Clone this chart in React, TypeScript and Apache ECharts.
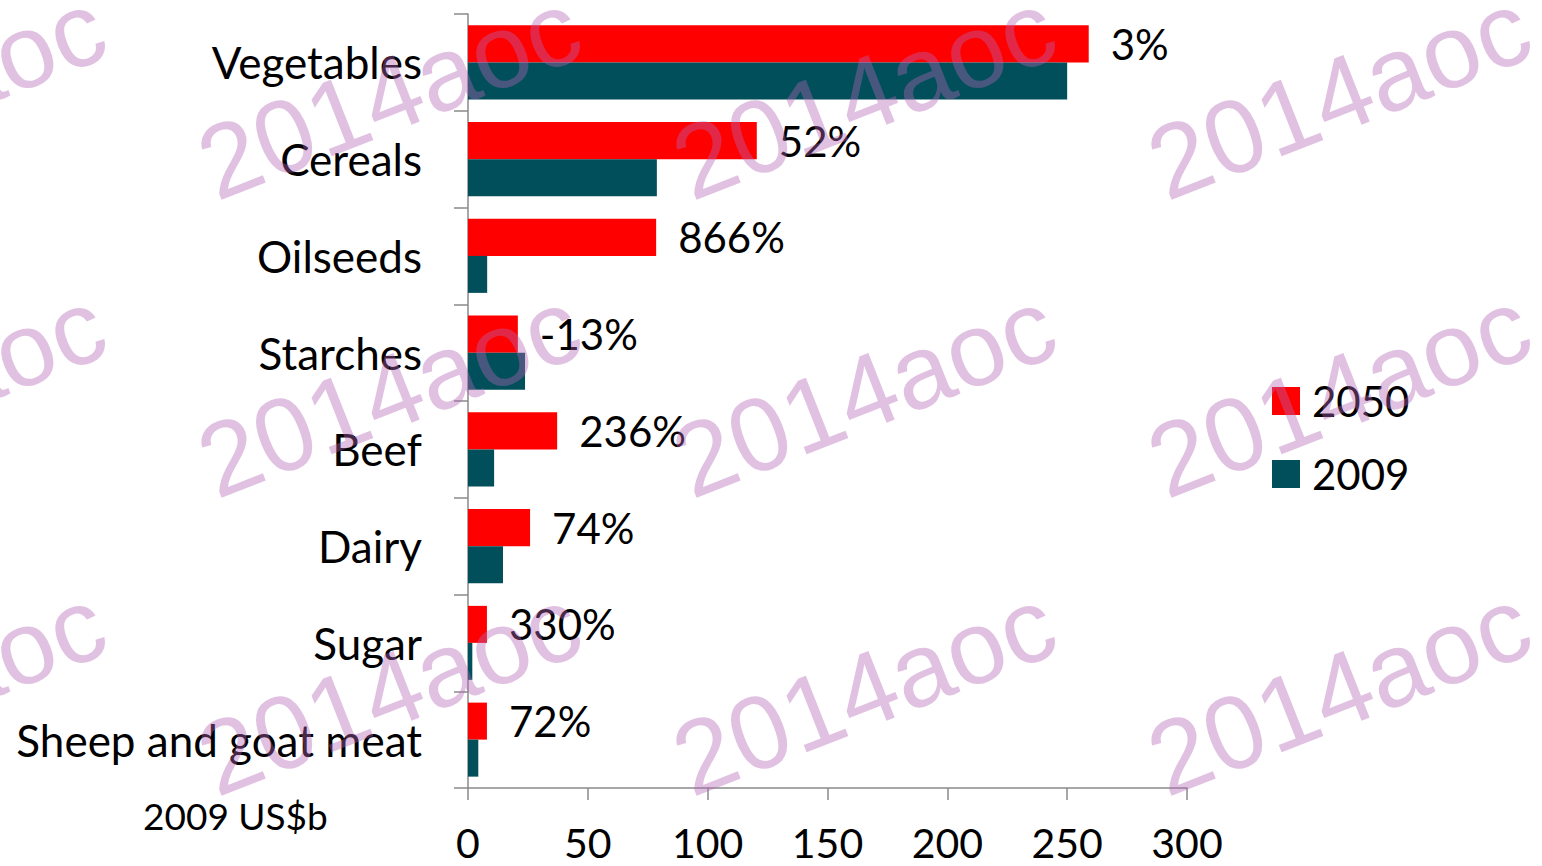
import React, { useEffect, useRef } from "react";
import * as echarts from "echarts";

const categories = [
  "Vegetables",
  "Cereals",
  "Oilseeds",
  "Starches",
  "Beef",
  "Dairy",
  "Sugar",
  "Sheep and goat meat",
];
const values2050 = [259, 120.5, 78.5, 20.8, 37.2, 25.9, 7.9, 7.9];
const values2009 = [250, 78.8, 8.0, 23.8, 10.9, 14.6, 1.8, 4.3];
const changeLabels = ["3%", "52%", "866%", "-13%", "236%", "74%", "330%", "72%"];
const seriesNames = ["2050", "2009"];
const unitLabel = "2009 US$b";
const watermarkText = "2014aoc";
const watermarkCols = [-86, 389, 864, 1339];
const watermarkRows = [95, 393, 691];

const FONT = "Lato, 'Noto Sans', sans-serif";
const AXIS_COLOR = "#8a8a8a";

export default function App() {
  const ref = useRef<HTMLDivElement>(null);

  useEffect(() => {
    if (!ref.current) return;
    const chart = echarts.init(ref.current, null, { renderer: "svg" });

    const watermarks: any[] = [];
    watermarkRows.forEach((y) => {
      watermarkCols.forEach((x) => {
        watermarks.push({
          type: "text",
          x,
          y,
          rotation: (21.5 * Math.PI) / 180,
          z: 100,
          silent: true,
          style: {
            text: watermarkText,
            fontSize: 104,
            fontFamily: "'Liberation Sans', Arial, sans-serif",
            fill: "rgba(180,100,180,0.4)",
            textAlign: "center",
            textVerticalAlign: "middle",
          },
        });
      });
    });

    const option: any = {
      animation: false,
      backgroundColor: "#ffffff",
      textStyle: { fontFamily: FONT },
      grid: { left: 468, right: 355, top: 14, bottom: 78, containLabel: false },
      legend: {
        orient: "vertical",
        left: 1272,
        top: 380,
        padding: 0,
        itemWidth: 28,
        itemHeight: 28,
        itemGap: 31,
        icon: "rect",
        data: seriesNames,
        textStyle: {
          fontSize: 42,
          lineHeight: 42,
          color: "#000",
          fontFamily: FONT,
          padding: [0, 0, 0, 7],
        },
      },
      xAxis: {
        type: "value",
        min: 0,
        max: 300,
        interval: 50,
        axisLine: { show: true, lineStyle: { color: AXIS_COLOR, width: 1.5 } },
        axisTick: { show: true, length: 12, lineStyle: { color: AXIS_COLOR, width: 1.5 } },
        splitLine: { show: false },
        axisLabel: {
          fontSize: 41,
          lineHeight: 34,
          color: "#000",
          margin: 37,
          fontFamily: FONT,
        },
      },
      yAxis: {
        type: "category",
        data: categories,
        inverse: true,
        axisLine: { show: true, lineStyle: { color: AXIS_COLOR, width: 1.5 } },
        axisTick: { show: true, length: 14, lineStyle: { color: AXIS_COLOR, width: 1.5 } },
        axisLabel: { fontSize: 44, color: "#000", margin: 46, fontFamily: FONT },
      },
      series: [
        {
          name: seriesNames[0],
          type: "bar",
          data: values2050,
          itemStyle: { color: "#FF0000" },
          barGap: "0%",
          barCategoryGap: "23.5%",
          label: {
            show: true,
            position: "right",
            distance: 22,
            fontSize: 42,
            color: "#000",
            fontFamily: FONT,
            formatter: (p: any) => changeLabels[p.dataIndex],
          },
        },
        {
          name: seriesNames[1],
          type: "bar",
          data: values2009,
          itemStyle: { color: "#004F5A" },
          barGap: "0%",
          barCategoryGap: "23.5%",
        },
      ],
      graphic: [
        {
          type: "text",
          x: 143,
          y: 815,
          style: {
            text: unitLabel,
            fontSize: 37,
            fontFamily: FONT,
            fill: "#000",
            textVerticalAlign: "middle",
          },
        },
        ...watermarks,
      ],
    };

    chart.setOption(option);
    return () => chart.dispose();
  }, []);

  return (
    <div
      ref={ref}
      style={{ position: "fixed", left: 0, top: 0, width: 1542, height: 866, background: "#fff" }}
    />
  );
}
